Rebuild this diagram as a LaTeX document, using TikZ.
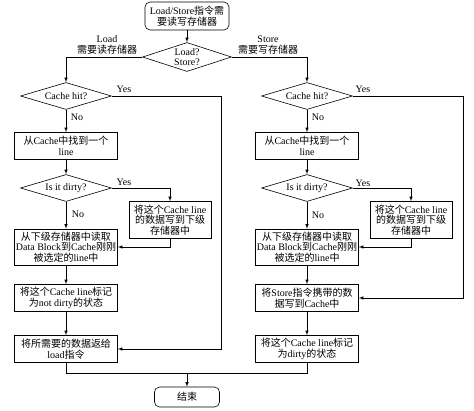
\documentclass[tikz,border=0pt]{standalone}
\usepackage{fontspec}
\setmainfont{Liberation Serif}
\newfontfamily\cjk{Noto Sans CJK SC}
\newcommand{\zh}[1]{{\cjk #1}}
\usetikzlibrary{shapes.geometric}

\begin{document}
\begin{tikzpicture}[x=1pt,y=-1pt,font=\fontsize{10}{10.5}\selectfont,line width=0.6pt]
    \useasboundingbox (0,0) rectangle (474,410);

    \tikzstyle{note}=[align=center,inner sep=0pt]
    \tikzstyle{term}=[draw,rounded corners=5pt,align=center,inner sep=1pt]
    \tikzstyle{test}=[draw,diamond,aspect=3.3,inner sep=0pt,minimum width=91pt,minimum height=27pt,align=center]
    \tikzstyle{proc}=[draw,align=center,inner sep=1pt,minimum width=103pt,minimum height=27pt]
    \tikzstyle{side}=[draw,align=center,inner sep=1pt,minimum width=82pt,minimum height=37pt]

    \node[term,minimum width=84pt,minimum height=28pt]  (start) at (187,16) {Load/Store\zh{指令需}\\\zh{要读写存储器}};
    \node[test,minimum width=89pt,minimum height=29pt,inner sep=-5pt]  (ls) at (187,57) {Load?\\Store?};
    \node[note]  (loadlbl) at (107,45) {Load\\\zh{需要读存储器}};
    \node[note]  (storelbl) at (268,45) {Store\\\zh{需要写存储器}};

    \node[test]  (lhit) at (66,96) {Cache hit?};
    \node[proc]  (lfind) at (66,146) {\zh{从}Cache\zh{中找到一个}\\line};
    \node[test]  (ldirty) at (66,188) {Is it dirty?};
    \node[side]  (lwb) at (170,220) {\zh{将这个}Cache line\\\zh{的数据写到下级}\\\zh{存储器中}};
    \node[proc,minimum height=36pt]  (lread) at (66,247) {\zh{从下级存储器中读取}\\Data Block\zh{到}Cache\zh{刚刚}\\\zh{被选定的}line\zh{中}};
    \node[proc]  (lnd) at (66,298) {\zh{将这个}Cache line\zh{标记}\\\zh{为}not dirty\zh{的状态}};
    \node[proc]  (lret) at (66,349) {\zh{将所需要的数据返给}\\load\zh{指令}};

    \node[test]  (rhit) at (307,96) {Cache hit?};
    \node[proc]  (rfind) at (307,146) {\zh{从}Cache\zh{中找到一个}\\line};
    \node[test]  (rdirty) at (307,188) {Is it dirty?};
    \node[side]  (rwb) at (411,220) {\zh{将这个}Cache line\\\zh{的数据写到下级}\\\zh{存储器中}};
    \node[proc,minimum height=36pt]  (rread) at (307,247) {\zh{从下级存储器中读取}\\Data Block\zh{到}Cache\zh{刚刚}\\\zh{被选定的}line\zh{中}};
    \node[proc]  (rstore) at (307,298) {\zh{将}Store\zh{指令携带的数}\\\zh{据写到}Cache\zh{中}};
    \node[proc]  (rmark) at (307,349) {\zh{将这个}Cache line\zh{标记}\\\zh{为}dirty\zh{的状态}};

    \node[term,minimum width=65pt,minimum height=20pt]  (end) at (187,397) {\zh{结束}};

    \node[note]  (lyes) at (124,89) {Yes};
    \node[note]  (lno) at (77,117) {No};
    \node[note]  (ldyes) at (124,182) {Yes};
    \node[note]  (ldno) at (78,214) {No};
    \node[note]  (ryes) at (363,89) {Yes};
    \node[note]  (rno) at (318,117) {No};
    \node[note]  (rdyes) at (363,183) {Yes};
    \node[note]  (rdno) at (318,215) {No};

    \coordinate (lbus) at (221,96);
    \coordinate (rbus) at (463,96);
    \coordinate (merge) at (187,373);

    \pgfsetarrowsend{latex}
    \tikzstyle{fwd} = [draw=black]

          \draw [fwd] (start) -- (ls);
          \draw [fwd] (ls.west) -| (lhit.north);
          \draw [fwd] (ls.east) -| (rhit.north);
          \draw [fwd] (lhit) -- (lfind);
          \draw [fwd] (lfind) -- (ldirty);
          \draw [fwd] (ldirty) -- (lread);
          \draw [fwd] (ldirty.east) -| (lwb.north);
          \draw [fwd] (lwb.south) |- (lread.east);
          \draw [fwd] (lread) -- (lnd);
          \draw [fwd] (lnd) -- (lret);
          \draw [fwd] (lhit.east) -- (lbus) |- (lret.east);
          \draw [fwd] (rhit) -- (rfind);
          \draw [fwd] (rfind) -- (rdirty);
          \draw [fwd] (rdirty) -- (rread);
          \draw [fwd] (rdirty.east) -| (rwb.north);
          \draw [fwd] (rwb.south) |- (rread.east);
          \draw [fwd] (rread) -- (rstore);
          \draw [fwd] (rstore) -- (rmark);
          \draw [fwd] (rhit.east) -- (rbus) |- (rstore.east);
          \draw [fwd,-] (lret.south) |- (merge);
          \draw [fwd,-] (rmark.south) |- (merge);
          \draw [fwd] (merge) -- (end);

  \end{tikzpicture}
\end{document}
